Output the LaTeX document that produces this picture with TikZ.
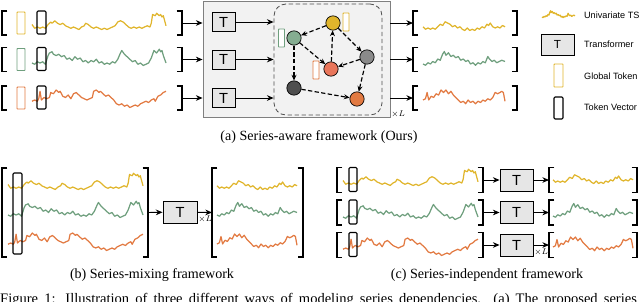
\documentclass[tikz,border=0pt]{standalone}
\usepackage{fontspec}
\setmainfont{Liberation Serif}
\setsansfont{Liberation Sans}
\usetikzlibrary{arrows.meta,positioning,fit}
\definecolor{Gold}{HTML}{E0B52C}
\definecolor{Sage}{HTML}{6F9F7E}
\definecolor{Rust}{HTML}{E27A42}
\definecolor{Salmon}{HTML}{E9765B}
\definecolor{MGray}{HTML}{8A8A8A}
\definecolor{DGray}{HTML}{4F4F4F}
\definecolor{BoxF}{HTML}{F2F2F2}
\definecolor{TF}{HTML}{E6E6E6}
\definecolor{Edge}{HTML}{7F7F7F}

\newcommand{\sqbr}[1]{%
  \draw[brk] ([xshift=1.6mm]#1.north west) -- (#1.north west) -- (#1.south west) -- ([xshift=1.6mm]#1.south west);
  \draw[brk] ([xshift=-1.6mm]#1.north east) -- (#1.north east) -- (#1.south east) -- ([xshift=-1.6mm]#1.south east);}

\tikzset{
  tsline/.style={line width=1.05pt, line join=round},
  ts/.style={yscale=-1.25},
  inY/.pic={\draw[tsline] plot coordinates {(0,2) (2,-1) (4,0) (6,-1) (8,0) (10,-1) (12,2) (14,4) (15,3) (17,5) (19,3) (21,2) (23,3) (25,1) (27,0) (29,-1) (31,0) (33,-1) (35,-2) (37,0) (39,1) (40,3) (42,2) (44,0) (46,-1) (48,0) (50,-1) (52,-2) (54,-1) (56,-2) (58,-1) (60,0) (62,1) (64,4) (66,5) (68,4) (70,2) (72,0) (74,-1) (76,0) (78,-1) (80,0) (82,-1) (84,0) (86,1) (88,0) (89,3) (90,10) (92,9) (93,11) (95,9) (96,10) (97,8) (98,9) (100,1)};},
  inG/.pic={\draw[tsline] plot coordinates {(0,0) (2,-1) (4,1) (6,0) (8,1) (10,-1) (12,6) (13,8) (15,9) (16,7) (18,6) (20,7) (22,5) (24,6) (26,3) (28,4) (30,2) (32,5) (34,3) (36,4) (38,1) (40,2) (42,0) (44,2) (46,1) (48,3) (50,0) (52,1) (54,-1) (56,0) (58,-1) (60,1) (62,0) (64,3) (66,8) (67,10) (69,7) (71,5) (73,3) (75,1) (77,2) (79,-1) (81,0) (83,-2) (85,-1) (87,0) (89,4) (91,10) (93,8) (95,11) (96,9) (97,10) (98,6) (100,0)};},
  inO/.pic={\draw[tsline] plot coordinates {(0,-1) (2,0) (4,-1) (5,1) (6,7) (7,0) (9,2) (11,1) (13,2) (14,6) (16,5) (18,8) (20,6) (21,7) (23,3) (25,2) (27,4) (29,1) (31,5) (33,6) (35,4) (37,2) (39,1) (41,0) (43,1) (45,2) (46,7) (48,8) (50,6) (51,7) (53,5) (55,3) (57,4) (59,2) (61,0) (63,-3) (65,-4) (67,-3) (69,-5) (71,-4) (73,-6) (75,-5) (77,-4) (79,-5) (81,-3) (83,-2) (85,-1) (87,-2) (89,0) (91,1) (92,-1) (94,3) (96,4) (98,6) (100,7)};},
  outY/.pic={\draw[tsline] plot coordinates {(0,1) (3,-1) (6,0) (9,-1) (12,0) (15,-1) (18,1) (21,3) (24,2) (27,5) (30,4) (33,3) (36,1) (39,2) (42,0) (45,1) (48,-1) (51,-2) (54,0) (57,-2) (60,-1) (63,-2) (66,0) (69,-1) (72,1) (75,0) (78,3) (80,2) (82,4) (85,1) (88,0) (91,1) (94,0) (97,2) (100,1)};},
  outG/.pic={\draw[tsline] plot coordinates {(0,0) (3,-1) (6,1) (9,0) (12,2) (15,1) (18,4) (21,3) (24,8) (26,10) (28,7) (31,9) (34,6) (37,7) (40,5) (43,6) (46,3) (49,4) (52,2) (55,3) (58,0) (61,1) (64,-1) (67,1) (70,0) (73,2) (76,1) (79,6) (81,4) (84,2) (87,3) (90,1) (93,2) (96,3) (100,2)};},
  outO/.pic={\draw[tsline] plot coordinates {(0,0) (3,1) (5,6) (7,0) (10,3) (13,2) (16,5) (19,4) (22,8) (25,6) (28,8) (31,5) (34,7) (37,4) (40,2) (43,0) (46,-2) (49,-1) (52,-3) (55,0) (58,-2) (61,-1) (64,-3) (67,-1) (70,-2) (73,0) (76,-1) (79,1) (82,0) (85,2) (88,6) (91,5) (94,6) (96,7) (98,6) (100,-1)};}
}

\begin{document}
\begin{tikzpicture}[x=0.3mm, y=-0.3mm,
    sbox/.style={minimum width=#1, minimum height=7.2mm, inner sep=0pt, outer sep=0pt},
    brk/.style={line width=1.2pt},
    tb/.style={draw, fill=TF, line width=0.8pt, minimum width=6.9mm, minimum height=5.7mm,
      inner sep=0pt, font=\sffamily\fontsize{12.5}{12.5}\selectfont},
    tok/.style={draw=#1, fill=white, line width=0.8pt, rounded corners=0.5pt, inner sep=0pt,
      minimum width=1.8mm, minimum height=5.4mm},
    tv/.style={draw, line width=0.9pt, rounded corners=1pt, inner sep=0pt,
      minimum width=2.7mm, minimum height=#1},
    gn/.style={circle, draw, line width=0.6pt, minimum size=4.3mm, inner sep=0pt},
    ge/.style={-{Stealth[length=1.7mm,width=1.5mm]}, line width=1pt, dash pattern=on 1.3mm off 0.7mm},
    ar/.style={-{Stealth[length=2mm,width=1.7mm]}, line width=0.8pt},
    xl/.style={font=\scriptsize, inner sep=0.5pt},
    capt/.style={font=\fontsize{12}{14}\selectfont},
    lg/.style={font=\sffamily\fontsize{7.8}{9}\selectfont, anchor=west}]
  \useasboundingbox (0,0) rectangle (640,301);

  % (a) series-aware
  \node[sbox=54mm] (ia1) at (92,23) {};
  \node[sbox=54mm] (ia2) at (92,59.5) {};
  \node[sbox=54mm] (ia3) at (92,98) {};
  \sqbr{ia1} \sqbr{ia2} \sqbr{ia3}
  \pic[ts, Gold, xscale=1.34] at (32,27) {inY};
  \pic[ts, Sage, xscale=1.34] at (32,63) {inG};
  \pic[ts, Rust, xscale=1.34] at (32,100) {inO};
  \node[tok=Gold, minimum width=2.4mm, minimum height=6.6mm] (ga1) at (21,23) {};
  \node[tok=Sage, minimum width=2.4mm, minimum height=6.6mm] (ga2) at (21,59.5) {};
  \node[tok=Rust, minimum width=2.4mm, minimum height=6.6mm] (ga3) at (21,98) {};
  \node[tv=6.9mm] (va1) at (41.5,22.5) {};
  \node[tv=6.9mm] (va2) at (41.5,59) {};
  \node[tv=6.9mm] (va3) at (41.5,97.5) {};

  \node[draw=Edge, fill=BoxF, line width=0.8pt, minimum width=56.1mm, minimum height=34.8mm] (blk) at (296.5,59) {};
  \node[tb] (Ta1) at (223.5,22) {T};
  \node[tb] (Ta2) at (223.5,59.5) {T};
  \node[tb] (Ta3) at (223.5,98) {T};
  \node[draw=DGray, line width=0.7pt, dash pattern=on 1.3mm off 0.8mm, rounded corners=3.6mm,
    minimum width=32.4mm, minimum height=33.3mm] (gbox) at (328,59.5) {};
  \node[xl, anchor=west] (xa) at ([yshift=0.9mm]blk.south east) {$\times L$};

  \node[gn, fill=Gold] (ny) at (333,23) {};
  \node[gn, fill=Sage!85] (ng) at (294,38) {};
  \node[gn, fill=MGray] (nm) at (367,57) {};
  \node[gn, fill=Salmon] (nr) at (331,69) {};
  \node[gn, fill=DGray] (nd) at (294,88) {};
  \node[gn, fill=Rust] (no) at (357,99) {};
  \node[tok=Gold] (ky) at (346,22) {};
  \node[tok=Sage] (kg) at (281.5,38) {};
  \node[tok=Rust] (kr) at (316,70) {};
  \draw[ge] (ny) -- (ng);
  \draw[ge] (ng) -- (nr);
  \draw[ge] (nr) -- (ny);
  \draw[ge] (ny) -- (nm);
  \draw[ge] (nm) -- (nr);
  \draw[ge] (ng) -- (nd);
  \draw[ge] (nd) -- (no);
  \draw[ge] (nm) -- (no);

  \node[sbox=31.2mm] (oa1) at (465,23) {};
  \node[sbox=31.2mm] (oa2) at (465,59.5) {};
  \node[sbox=31.2mm] (oa3) at (465,98) {};
  \sqbr{oa1} \sqbr{oa2} \sqbr{oa3}
  \pic[ts, Gold, xscale=0.82] at (423,28) {outY};
  \pic[ts, Sage, xscale=0.82] at (423,64) {outG};
  \pic[ts, Rust, xscale=0.82] at (423,100) {outO};

  \draw[ar] (ia1.east) -- (ia1.east -| blk.west);
  \draw[ar] (ia2.east) -- (ia2.east -| blk.west);
  \draw[ar] (ia3.east) -- (ia3.east -| blk.west);
  \draw[ar] (Ta1) -- (Ta1 -| gbox.west);
  \draw[ar] (Ta2) -- (Ta2 -| gbox.west);
  \draw[ar] (Ta3) -- (Ta3 -| gbox.west);
  \draw[ar] (oa1.west -| blk.east) -- (oa1.west);
  \draw[ar] (oa2.west -| blk.east) -- (oa2.west);
  \draw[ar] (oa3.west -| blk.east) -- (oa3.west);
  \node[capt] (ca) at (319,137) {(a) Series-aware framework (Ours)};

  % legend
  \pic[ts, Gold, xscale=0.33, yscale=0.5] at (542,17) {outG};
  \node[lg] (l1) at (580,15) {Univariate TS};
  \node[tb, minimum width=9.9mm, minimum height=6.3mm, font=\sffamily\fontsize{10}{10}\selectfont] (lt) at (557.5,44.5) {T};
  \node[lg] (l2) at (580,44) {Transformer};
  \node[tok=Gold, minimum width=2.7mm, minimum height=6.9mm] (lk) at (558.5,75.5) {};
  \node[lg] (l3) at (580,76) {Global Token};
  \node[tv=6.6mm] (lv) at (558.5,108) {};
  \node[lg] (l4) at (580,107) {Token Vector};

  % (b) series-mixing
  \node[sbox=43.8mm, minimum height=26.7mm] (ib) at (75,212.5) {};
  \sqbr{ib}
  \pic[ts, Gold, xscale=1.35] at (8,187) {inY};
  \pic[ts, Sage, xscale=1.35] at (8,215) {inG};
  \pic[ts, Rust, xscale=1.35] at (8,243) {inO};
  \node[tv=24.3mm] (vb) at (17.5,213.5) {};
  \node[tb, minimum width=10.2mm, minimum height=6.6mm] (Tb) at (180,212) {T};
  \node[sbox=27.3mm, minimum height=26.7mm] (ob) at (257.5,212.5) {};
  \sqbr{ob}
  \pic[ts, Gold, xscale=0.8] at (217,187) {outY};
  \pic[ts, Sage, xscale=0.8] at (217,215) {outG};
  \pic[ts, Rust, xscale=0.8] at (217,244) {outO};
  \draw[ar] (ib.east) -- (Tb);
  \draw[ar] (Tb) -- (ob.west);
  \node[xl, anchor=south west] (xb) at (Tb.south east) {$\times L$};
  \node[capt] (cb) at (152,275) {(b) Series-mixing framework};

  % (c) series-independent
  \node[sbox=43.8mm, minimum height=7.5mm] (ic1) at (410,180) {};
  \node[sbox=43.8mm, minimum height=7.5mm] (ic2) at (410,212.5) {};
  \node[sbox=43.8mm, minimum height=7.5mm] (ic3) at (410,245) {};
  \sqbr{ic1} \sqbr{ic2} \sqbr{ic3}
  \pic[ts, Gold, xscale=1.35] at (343,183) {inY};
  \pic[ts, Sage, xscale=1.35] at (343,217) {inG};
  \pic[ts, Rust, xscale=1.35] at (343,248) {inO};
  \node[tv=7.2mm, minimum width=2.4mm] (vc1) at (353,179.5) {};
  \node[tv=7.2mm, minimum width=2.4mm] (vc2) at (353,212) {};
  \node[tv=7.2mm, minimum width=2.4mm] (vc3) at (353,244.5) {};
  \node[tb, minimum width=9.9mm, minimum height=6.6mm] (Tc1) at (516.5,180) {T};
  \node[tb, minimum width=9.9mm, minimum height=6.6mm] (Tc2) at (516.5,212.5) {T};
  \node[tb, minimum width=9.9mm, minimum height=6.6mm] (Tc3) at (516.5,245) {T};
  \node[sbox=26.4mm, minimum height=7.5mm] (oc1) at (593,180) {};
  \node[sbox=26.4mm, minimum height=7.5mm] (oc2) at (593,212.5) {};
  \node[sbox=26.4mm, minimum height=7.5mm] (oc3) at (593,245) {};
  \sqbr{oc1} \sqbr{oc2} \sqbr{oc3}
  \pic[ts, Gold, xscale=0.8] at (553,181) {outY};
  \pic[ts, Sage, xscale=0.8] at (553,216) {outG};
  \pic[ts, Rust, xscale=0.8] at (553,247) {outO};
  \draw[ar] (ic1.east) -- (Tc1);
  \draw[ar] (ic2.east) -- (Tc2);
  \draw[ar] (ic3.east) -- (Tc3);
  \draw[ar] (Tc1) -- (oc1.west);
  \draw[ar] (Tc2) -- (oc2.west);
  \draw[ar] (Tc3) -- (oc3.west);
  \node[xl, anchor=south west] (xc) at (Tc3.south east) {$\times L$};
  \node[capt] (cc) at (487,275) {(c) Series-independent framework};

  \node[anchor=base west, inner sep=0pt, font=\fontsize{12.4}{14}\selectfont] (fig) at (0,303)
    {\makebox[191mm][s]{Figure 1: Illustration of three different ways of modeling series dependencies. (a) The proposed series}};
\end{tikzpicture}
\end{document}
